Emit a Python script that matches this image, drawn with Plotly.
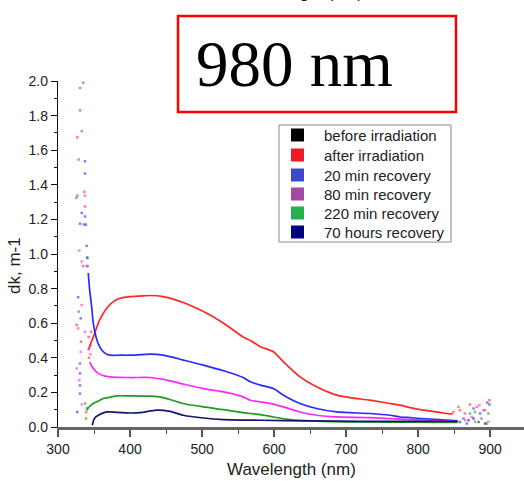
import plotly.graph_objects as go

# ---------------- data ----------------
legend_names = ["before irradiation", "after irradiation", "20 min recovery",
                "80 min recovery", "220 min recovery", "70 hours recovery"]
legend_colors = ["#000000", "#ed1c24", "#3f48cc", "#a349a4", "#22b14c", "#000080"]

# main (smooth) parts of each curve
red_x = [342, 349, 358, 367.6, 376.8, 386, 400, 414, 428, 446, 474, 502, 530, 557, 567, 581, 599, 613, 636, 659, 687, 706, 733, 761, 775, 789, 803, 820, 835, 848]
red_y = [0.445, 0.52, 0.62, 0.686, 0.725, 0.744, 0.754, 0.757, 0.76, 0.754, 0.72, 0.667, 0.60, 0.52, 0.50, 0.464, 0.435, 0.377, 0.29, 0.232, 0.184, 0.17, 0.155, 0.136, 0.126, 0.112, 0.10, 0.09, 0.081, 0.075]

blue_x = [342, 344, 346.7, 349, 352.8, 356, 360.7, 367.6, 372, 386, 400, 428, 446, 474, 502, 530, 557, 567, 581, 599, 613, 636, 659, 687, 733, 761, 775, 789, 803, 844, 855]
blue_y = [0.89, 0.79, 0.696, 0.60, 0.52, 0.48, 0.445, 0.42, 0.415, 0.415, 0.415, 0.421, 0.415, 0.387, 0.358, 0.325, 0.286, 0.261, 0.242, 0.222, 0.184, 0.136, 0.107, 0.087, 0.078, 0.068, 0.058, 0.054, 0.049, 0.039, 0.036]

mag_x = [344, 349, 356, 365, 372, 400, 428, 446, 474, 502, 530, 557, 567, 581, 599, 613, 636, 659, 687, 733, 789, 830, 855]
mag_y = [0.377, 0.338, 0.31, 0.294, 0.29, 0.286, 0.286, 0.275, 0.248, 0.222, 0.203, 0.174, 0.155, 0.145, 0.132, 0.116, 0.087, 0.068, 0.058, 0.054, 0.043, 0.036, 0.033]

green_x = [340, 344, 349, 356, 363, 372, 381.5, 400, 428, 446, 474, 502, 530, 557, 567, 581, 599, 622, 650, 700, 760, 820, 855]
green_y = [0.097, 0.12, 0.136, 0.15, 0.165, 0.172, 0.18, 0.18, 0.178, 0.17, 0.136, 0.116, 0.10, 0.083, 0.078, 0.072, 0.058, 0.043, 0.035, 0.03, 0.028, 0.027, 0.027]

navy_x = [347.6, 350.5, 356, 367.6, 372, 400, 414, 437, 455.6, 474, 502, 530, 581, 650, 720, 790, 855]
navy_y = [0.01, 0.049, 0.068, 0.087, 0.087, 0.081, 0.083, 0.097, 0.09, 0.068, 0.052, 0.043, 0.039, 0.035, 0.033, 0.032, 0.032]

# scattered noisy points at the short- and long-wavelength ends
red_pts_x = [330.6, 326.8, 328.7, 336.5, 326.8, 337.5, 335, 326, 332, 339, 343, 345, 346, 342.5, 849, 856, 858, 865, 872, 881.5, 890.7, 899]
red_pts_y = [1.83, 1.675, 1.546, 1.359, 1.337, 1.275, 0.93, 0.59, 0.493, 0.087, 0.40, 0.47, 0.55, 0.52, 0.087, 0.116, 0.097, 0.078, 0.13, 0.116, 0.097, 0.155]
blue_pts_x = [337.5, 337.5, 333, 337.5, 330.6, 336, 338.9, 339.8, 340.5, 341, 328, 331.5, 330.6, 330.6, 330.6, 330.6, 326.8, 863, 867.6, 877, 886, 896, 899]
blue_pts_y = [1.536, 1.465, 1.237, 1.217, 1.175, 1.17, 1.17, 1.047, 0.98, 0.93, 0.75, 0.628, 0.367, 0.31, 0.24, 0.193, 0.087, 0.049, 0.02, 0.107, 0.078, 0.141, 0.13]
mag_pts_x = [337.5, 329.6, 333, 339.8, 333, 328, 337.5, 331.5, 326, 329.6, 333, 343, 345, 865, 874.5, 885, 893, 897.5]
mag_pts_y = [1.337, 1.02, 0.957, 0.93, 0.705, 0.57, 0.551, 0.435, 0.338, 0.27, 0.13, 0.45, 0.42, 0.039, 0.058, 0.126, 0.097, 0.03]
green_pts_x = [335, 330.6, 333, 325.4, 340.7, 328.7, 337.5, 340, 339, 872, 879, 879, 888, 895, 897.6]
green_pts_y = [1.99, 1.96, 1.71, 1.324, 0.976, 0.667, 0.136, 0.11, 0.049, 0.078, 0.087, 0.03, 0.049, 0.02, 0.078]
navy_pts_x = [858, 870, 877, 884, 893]
navy_pts_y = [0.029, 0.039, 0.049, 0.029, 0.02]

x_ticks = [300, 400, 500, 600, 700, 800, 900]
y_ticks = [0.0, 0.2, 0.4, 0.6, 0.8, 1.0, 1.2, 1.4, 1.6, 1.8, 2.0]

# ---------------- figure ----------------
data_colors = {"red": "#ff2626", "blue": "#2a2aff", "mag": "#ff26ff",
               "green": "#1f9a1f", "navy": "#141478"}

fig = go.Figure()

curves = [
    (red_x, red_y, red_pts_x, red_pts_y, data_colors["red"]),
    (blue_x, blue_y, blue_pts_x, blue_pts_y, data_colors["blue"]),
    (mag_x, mag_y, mag_pts_x, mag_pts_y, data_colors["mag"]),
    (green_x, green_y, green_pts_x, green_pts_y, data_colors["green"]),
    (navy_x, navy_y, navy_pts_x, navy_pts_y, data_colors["navy"]),
]
for cx, cy, px, py, col in curves:
    fig.add_trace(go.Scatter(x=cx, y=cy, mode="lines", line=dict(color=col, width=1.7, shape="spline", smoothing=0.6),
                             showlegend=False, hoverinfo="skip"))
    fig.add_trace(go.Scatter(x=px, y=py, mode="markers", marker=dict(color=col, size=2.5, opacity=0.6, symbol="square"),
                             showlegend=False, hoverinfo="skip"))

L, T, B = 58, 81, 54
W, H = 524, 481
pw, ph = W - L, H - T - B


def px2paper(px, py):
    return (px - L) / pw, (H - B - py) / ph


# "980 nm" box
x0, y0 = px2paper(178, 16)
x1, y1 = px2paper(456, 112)
fig.add_shape(type="rect", xref="paper", yref="paper", x0=x0, x1=x1, y0=y1, y1=y0,
              line=dict(color="#ff0000", width=2.5), fillcolor="white", layer="above")

# legend frame + entries (drawn as shapes and text so the spacing matches)
gx0, gy0 = px2paper(279, 125)
gx1, gy1 = px2paper(451, 242)
fig.add_shape(type="rect", xref="paper", yref="paper", x0=gx0, x1=gx1, y0=gy1, y1=gy0,
              line=dict(color="#888", width=1), fillcolor="white", layer="above")
row_y = [135, 155, 175, 194, 213, 232]
for name, col, ry in zip(legend_names, legend_colors, row_y):
    sx0, sy0 = px2paper(291, ry - 6.5)
    sx1, sy1 = px2paper(304, ry + 6.5)
    fig.add_shape(type="rect", xref="paper", yref="paper", x0=sx0, x1=sx1, y0=sy1, y1=sy0,
                  line=dict(width=0), fillcolor=col, layer="above")
    tx_, ty_ = px2paper(322, ry)
    fig.add_annotation(x=tx_, y=ty_, xref="paper", yref="paper", text=name, showarrow=False,
                       xanchor="left", yanchor="middle",
                       font=dict(family="Liberation Sans", size=15, color="#222"))

ax, ay = px2paper(294, 64)
fig.add_annotation(x=ax, y=ay, xref="paper", yref="paper", text="980 nm", showarrow=False,
                   font=dict(family="Liberation Serif", size=65, color="#000"), xanchor="center", yanchor="middle")

# x title
tx, ty = px2paper(291.5, 470)
fig.add_annotation(x=tx, y=ty, xref="paper", yref="paper", text="Wavelength (nm)", showarrow=False,
                   font=dict(family="Liberation Sans", size=17, color="#222"), xanchor="center", yanchor="middle")
# cropped title of the panel above (cut by the image edge, as in the reference)
cx_, cy_ = px2paper(298, -7)
fig.add_annotation(x=cx_, y=cy_, xref="paper", yref="paper", text="Wavelength (nm)", showarrow=False,
                   font=dict(family="Liberation Sans", size=17, color="#222"), xanchor="center", yanchor="middle")
# y title
yx, yy = px2paper(14, 266)
fig.add_annotation(x=yx, y=yy, xref="paper", yref="paper", text="dk, m-1", showarrow=False, textangle=-90,
                   font=dict(family="Liberation Sans", size=17, color="#222"), xanchor="center", yanchor="middle")

fig.update_layout(
    width=W, height=H,
    margin=dict(l=L, r=0, t=T, b=B),
    paper_bgcolor="white", plot_bgcolor="white",
    font=dict(family="Liberation Sans", size=14, color="#222"),
    showlegend=False,
    xaxis=dict(range=[300, 947], tickvals=x_ticks, ticktext=[str(v) for v in x_ticks],
               showgrid=False, zeroline=False, showline=True, linecolor="#666", linewidth=2.5,
               ticks="outside", ticklen=7, tickwidth=1.5, tickcolor="#555",
               minor=dict(dtick=50, ticks="outside", ticklen=4, tickcolor="#555", tickwidth=1.2, showgrid=False),
               tickfont=dict(size=14)),
    yaxis=dict(range=[0, 2.0], tickvals=y_ticks, ticktext=["%.1f" % v for v in y_ticks],
               showgrid=False, zeroline=False, showline=True, linecolor="#111", linewidth=1.3,
               ticks="outside", ticklen=6, tickwidth=1.2, tickcolor="#111",
               minor=dict(dtick=0.1, ticks="outside", ticklen=3, tickcolor="#111", tickwidth=1, showgrid=False),
               tickfont=dict(size=14)),
)

fig.write_html("out.html")
